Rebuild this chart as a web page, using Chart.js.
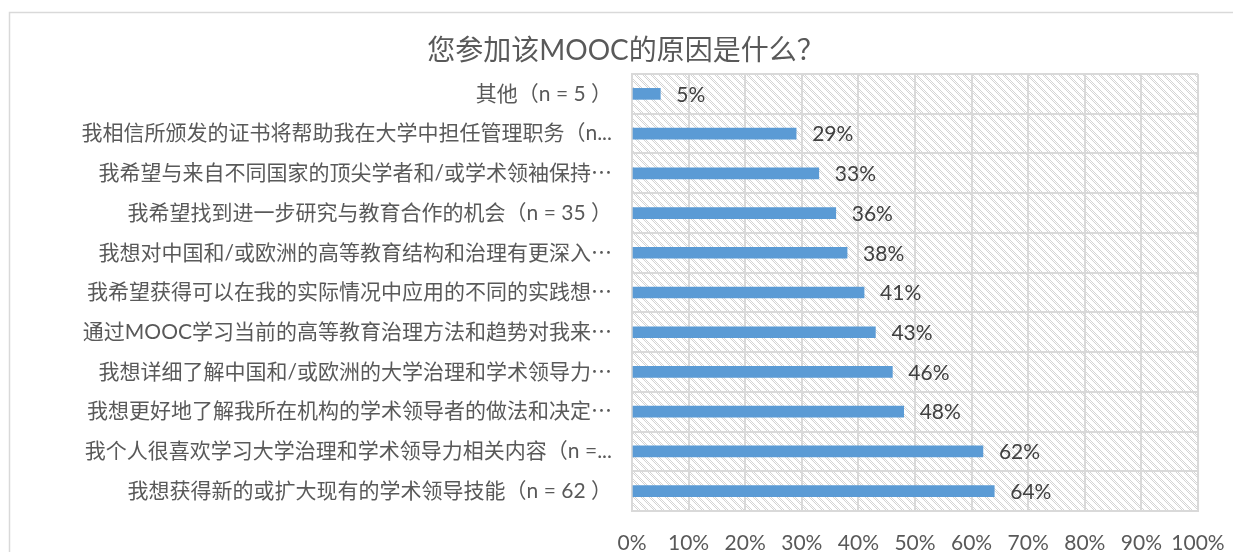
<!DOCTYPE html>
<html>
<head>
<meta charset="utf-8">
<script src="https://cdn.jsdelivr.net/npm/chart.js@4/dist/chart.umd.min.js"></script>
<style>
  html, body { margin: 0; padding: 0; background: #ffffff; }
  #wrap { width: 1233px; height: 552px; position: relative; }
</style>
</head>
<body>
<div id="wrap"><canvas id="c" width="1233" height="552"></canvas></div>
<script>
const chartTitle = '您参加该MOOC的原因是什么？';
const categories = [
  '其他（n = 5 ）',
  '我相信所颁发的证书将帮助我在大学中担任管理职务（n...',
  '我希望与来自不同国家的顶尖学者和/或学术领袖保持⋯',
  '我希望找到进一步研究与教育合作的机会（n = 35 ）',
  '我想对中国和/或欧洲的高等教育结构和治理有更深入⋯',
  '我希望获得可以在我的实际情况中应用的不同的实践想⋯',
  '通过MOOC学习当前的高等教育治理方法和趋势对我来⋯',
  '我想详细了解中国和/或欧洲的大学治理和学术领导力⋯',
  '我想更好地了解我所在机构的学术领导者的做法和决定⋯',
  '我个人很喜欢学习大学治理和学术领导力相关内容（n =...',
  '我想获得新的或扩大现有的学术领导技能（n = 62 ）'
];
const percentValues = [5, 29, 33, 36, 38, 41, 43, 46, 48, 62, 64];
const xTickValues = [0, 10, 20, 30, 40, 50, 60, 70, 80, 90, 100];

const FONT = "Lato, 'Noto Sans CJK SC', sans-serif";
const GRID = '#d9d9d9';

function makeHatch() {
  const p = document.createElement('canvas');
  p.width = 8; p.height = 8;
  const g = p.getContext('2d');
  g.fillStyle = '#ffffff';
  g.fillRect(0, 0, 8, 8);
  g.fillStyle = '#d4d4d4';
  for (let y = 0; y < 8; y++) {
    for (let x = 0; x < 8; x++) {
      const d = ((x - y) % 8 + 8) % 8;
      if ((d === 0 || d === 1 || d === 2) && ((x + y) % 2 === 0)) g.fillRect(x, y, 1, 1);
    }
  }
  return p;
}

const bgPlugin = {
  id: 'bg',
  beforeDraw(chart) {
    const ctx = chart.ctx;
    const a = chart.chartArea;
    ctx.save();
    ctx.fillStyle = '#ffffff';
    ctx.fillRect(0, 0, chart.width, chart.height);
    ctx.strokeStyle = GRID;
    ctx.lineWidth = 1.5;
    ctx.beginPath();
    ctx.moveTo(9.5, chart.height);
    ctx.lineTo(9.5, 12.5);
    ctx.lineTo(chart.width, 12.5);
    ctx.stroke();
    ctx.fillStyle = ctx.createPattern(makeHatch(), 'repeat');
    ctx.fillRect(a.left, a.top, a.right - a.left, a.bottom - a.top);
    ctx.font = '28px ' + FONT;
    ctx.fillStyle = '#595959';
    ctx.textAlign = 'center';
    ctx.textBaseline = 'middle';
    ctx.fillText(chartTitle, 626, 51);
    ctx.restore();
  }
};

const labelPlugin = {
  id: 'barLabels',
  afterDatasetsDraw(chart) {
    const ctx = chart.ctx;
    const meta = chart.getDatasetMeta(0);
    ctx.save();
    ctx.font = '21px ' + FONT;
    ctx.fillStyle = '#404040';
    ctx.textAlign = 'left';
    ctx.textBaseline = 'middle';
    meta.data.forEach((bar, i) => {
      ctx.fillText(percentValues[i] + '%', bar.x + 16, bar.y + 1);
    });
    ctx.restore();
  }
};

new Chart(document.getElementById('c'), {
  type: 'bar',
  data: {
    labels: categories,
    datasets: [{
      data: percentValues,
      backgroundColor: '#5b9bd5',
      borderWidth: 0,
      barThickness: 11
    }]
  },
  options: {
    indexAxis: 'y',
    responsive: false,
    animation: false,
    devicePixelRatio: 1,
    layout: { padding: { left: 0, right: 35, top: 74, bottom: 0 } },
    plugins: {
      legend: { display: false },
      tooltip: { enabled: false },
      title: { display: false }
    },
    scales: {
      x: {
        min: 0,
        max: 100,
        afterBuildTicks(scale) { scale.ticks = xTickValues.map(v => ({ value: v })); },
        afterFit(scale) { scale.height = 41; scale.paddingRight = 0; scale.paddingLeft = 0; },
        grid: { color: GRID, lineWidth: 2, drawTicks: false },
        border: { color: GRID, width: 2 },
        ticks: {
          padding: 20,
          color: '#595959',
          font: { family: FONT, size: 21 },
          maxRotation: 0,
          autoSkip: false,
          callback: v => v + '%'
        }
      },
      y: {
        afterFit(scale) { scale.width = 632; },
        grid: { color: GRID, lineWidth: 2, drawTicks: false, offset: true },
        border: { color: GRID, width: 2 },
        ticks: {
          padding: 20,
          color: '#595959',
          font: { family: FONT, size: 21 },
          autoSkip: false
        }
      }
    }
  },
  plugins: [bgPlugin, labelPlugin]
});
</script>
</body>
</html>
